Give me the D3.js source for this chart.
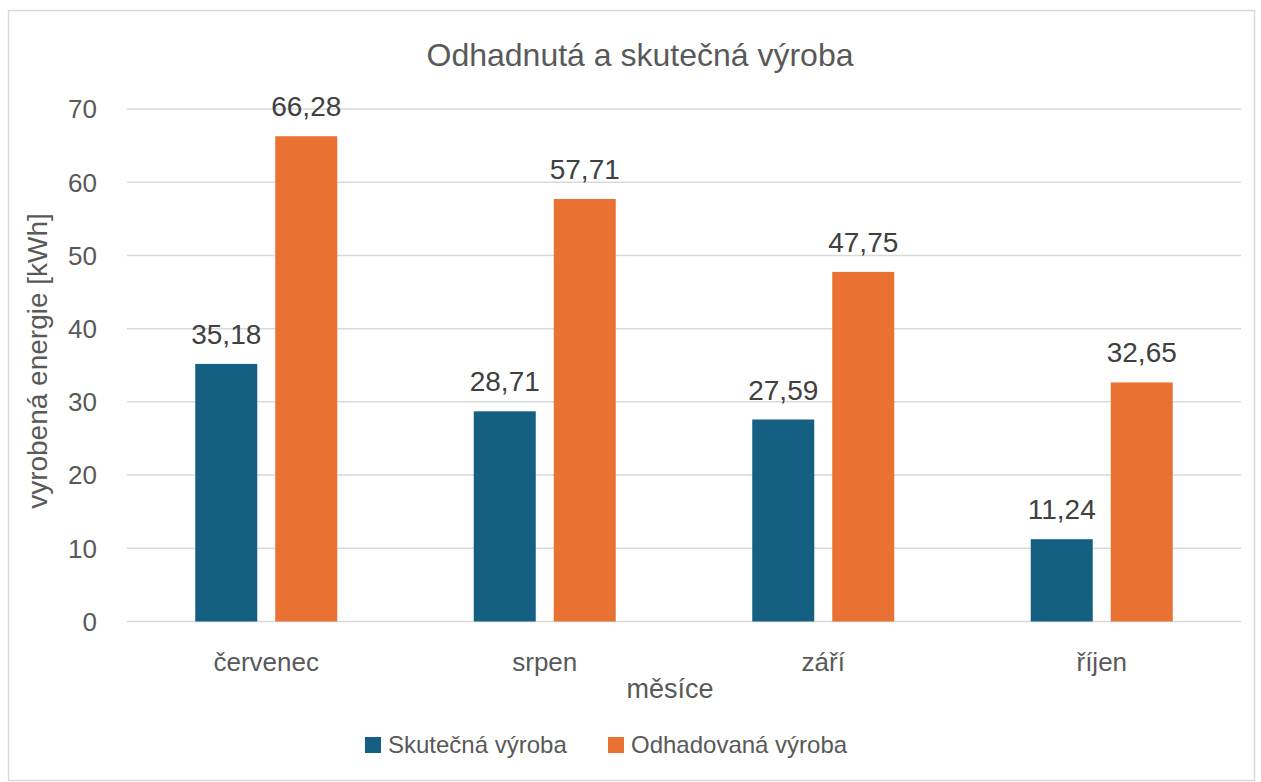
<!DOCTYPE html>
<html>
<head>
<meta charset="utf-8">
<script src="https://cdn.jsdelivr.net/npm/d3@7"></script>
<style>
  body { margin: 0; background: #fff; }
  text { font-family: "Liberation Sans", Arial, sans-serif; fill: #595959; }
</style>
</head>
<body>
<div id="chart"></div>
<script>
// ---------------------------//
//            DATA            //
// ---------------------------//
const months = ["červenec", "srpen", "září", "říjen"];
const seriesNames = ["Skutečná výroba", "Odhadovaná výroba"];
const actual = [35.18, 28.71, 27.59, 11.24];
const estimated = [66.28, 57.71, 47.75, 32.65];
const yTicks = [0, 10, 20, 30, 40, 50, 60, 70];
const colors = ["#156082", "#E97132"];

const WIDTH = 1261, HEIGHT = 782;
const FONT = "'Liberation Sans', Arial, sans-serif";

const svg = d3.select("#chart").append("svg")
    .attr("width", WIDTH)
    .attr("height", HEIGHT);

// outer border
svg.append("rect")
    .attr("x", 8.5).attr("y", 10.5)
    .attr("width", 1246).attr("height", 770)
    .attr("fill", "#fff")
    .attr("stroke", "#d9d9d9")
    .attr("stroke-width", 1.5);

// ---------------------------//
//       AXIS AND SCALE       //
// ---------------------------//
const x0 = d3.scaleBand()
    .domain(months)
    .range([127, 1241])
    .paddingInner(0).paddingOuter(0);

const y = d3.scaleLinear()
    .domain([0, 70])
    .range([621.5, 109]);

// gridlines
svg.append("g")
    .selectAll("line")
    .data(yTicks)
    .enter()
    .append("line")
    .attr("x1", 127).attr("x2", 1241)
    .attr("y1", d => y(d)).attr("y2", d => y(d))
    .attr("stroke", "#d9d9d9")
    .attr("stroke-width", 1.5);

// y axis labels
const yAxis = svg.append("g")
    .attr("transform", "translate(97,0)")
    .call(d3.axisLeft(y).tickValues(yTicks).tickSize(0).tickPadding(0));
yAxis.select(".domain").remove();
yAxis.selectAll("text")
    .attr("dy", "0.34em")
    .attr("fill", "#595959")
    .style("font-size", "26px")
    .style("font-family", FONT);

// x axis labels
const xAxis = svg.append("g")
    .attr("transform", "translate(0,621.5)")
    .call(d3.axisBottom(x0).tickSize(0).tickPadding(0));
xAxis.select(".domain").remove();
xAxis.selectAll("text")
    .attr("y", 49)
    .attr("dy", 0)
    .attr("fill", "#595959")
    .style("font-size", "26px")
    .style("font-family", FONT);

// ---------------------------//
//            BARS            //
// ---------------------------//
const barW = 62, gap = 18;
const groups = months.map((m, i) => ({ month: m, values: [actual[i], estimated[i]] }));

const group = svg.selectAll(".grp")
    .data(groups)
    .enter()
    .append("g")
    .attr("transform", d => `translate(${x0(d.month) + x0.bandwidth() / 2},0)`);

group.selectAll("rect")
    .data(d => d.values)
    .enter()
    .append("rect")
    .attr("x", (d, i) => i === 0 ? -gap / 2 - barW : gap / 2)
    .attr("y", d => y(d))
    .attr("width", barW)
    .attr("height", d => y(0) - y(d))
    .attr("fill", (d, i) => colors[i]);

group.selectAll(".lbl")
    .data(d => d.values)
    .enter()
    .append("text")
    .attr("x", (d, i) => i === 0 ? -gap / 2 - barW / 2 : gap / 2 + barW / 2)
    .attr("y", d => y(d) - 20)
    .attr("text-anchor", "middle")
    .style("fill", "#404040")
    .style("font-size", "28px")
    .text(d => d3.format(".2f")(d).replace(".", ","));

// ---------------------------//
//      TITLES AND LEGEND     //
// ---------------------------//
svg.append("text")
    .attr("x", 640).attr("y", 66)
    .attr("text-anchor", "middle")
    .style("font-size", "32px")
    .text("Odhadnutá a skutečná výroba");

svg.append("text")
    .attr("x", 670).attr("y", 698)
    .attr("text-anchor", "middle")
    .style("font-size", "27px")
    .text("měsíce");

svg.append("text")
    .attr("transform", "translate(47,361) rotate(-90)")
    .attr("text-anchor", "middle")
    .style("font-size", "28px")
    .text("vyrobená energie [kWh]");

const legendX = [365, 608];
const legend = svg.selectAll(".leg")
    .data(seriesNames)
    .enter()
    .append("g")
    .attr("transform", (d, i) => `translate(${legendX[i]},737)`);
legend.append("rect")
    .attr("width", 16).attr("height", 16)
    .attr("fill", (d, i) => colors[i]);
legend.append("text")
    .attr("x", 23).attr("y", 16)
    .style("font-size", "24px")
    .text(d => d);
</script>
</body>
</html>
